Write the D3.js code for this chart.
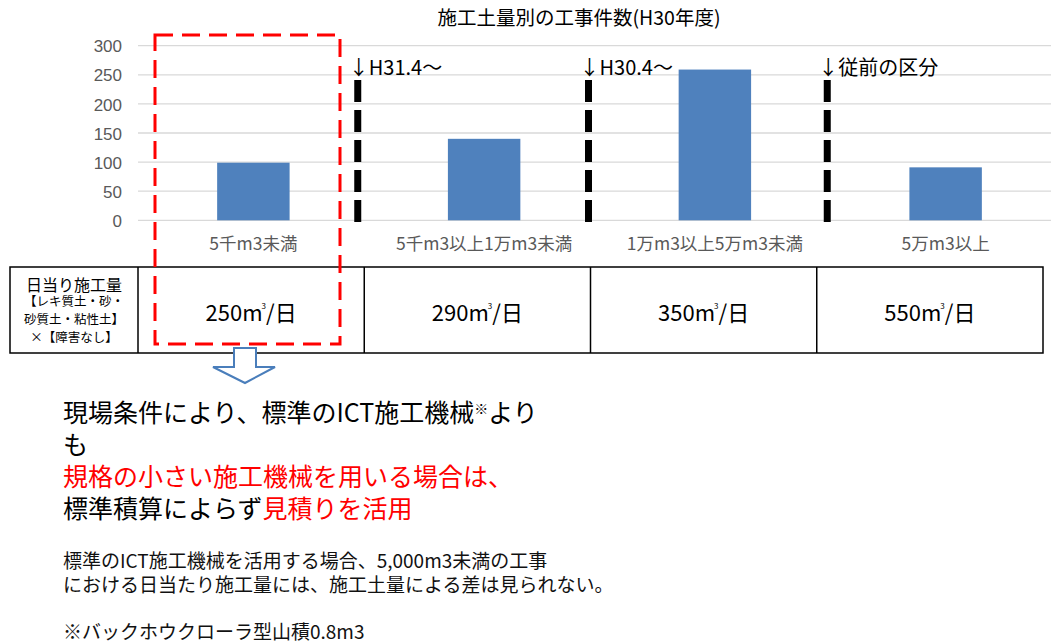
<!DOCTYPE html>
<html>
<head>
<meta charset="utf-8">
<script src="https://cdn.jsdelivr.net/npm/d3@7/dist/d3.min.js"></script>
<style>
  body { margin: 0; background: #fff; }
  svg { display: block; font-family: 'Noto Sans CJK JP', sans-serif; }
  .grid line { stroke: #d9d9d9; stroke-width: 1.3px; }
  .y-axis text { fill: #595959; font-size: 17px; }
  .cat { fill: #595959; font-size: 17.5px; }
</style>
</head>
<body>
<script>
// chart data
const title = '施工土量別の工事件数(H30年度)';
const categories = ['5千m3未満', '5千m3以上1万m3未満', '1万m3以上5万m3未満', '5万m3以上'];
const counts = [99, 140, 259, 91];
const yTicks = [0, 50, 100, 150, 200, 250, 300];
const dividerLabels = ['↓H31.4～', '↓H30.4～', '↓従前の区分'];

// table under the chart
const rowHeader = ['日当り施工量', '【レキ質土・砂・', '砂質土・粘性土】', '×【障害なし】'];
const dailyAmounts = [250, 290, 350, 550];

// text block
const messageLines = [
  [{t: '現場条件により、標準のICT施工機械'}, {t: '※', sup: true}, {t: 'より'}],
  [{t: 'も'}],
  [{t: '規格の小さい施工機械を用いる場合は、', red: true}],
  [{t: '標準積算によらず'}, {t: '見積りを活用', red: true}]
];
const noteLines = [
  '標準のICT施工機械を活用する場合、5,000m3未満の工事',
  'における日当たり施工量には、施工土量による差は見られない。',
  '',
  '※バックホウクローラ型山積0.8m3'
];

const width = 1051, height = 643;
const svg = d3.select('body').append('svg')
  .attr('width', width)
  .attr('height', height);

let x = d3.scaleBand()
  .domain(categories)
  .range([138, 1061])
  .paddingInner(0.686)
  .paddingOuter(0.343);

let y = d3.scaleLinear()
  .domain([0, 300])
  .range([220.3, 45.7]);

// 標題
svg.append('text')
  .attr('x', 579)
  .attr('y', 25)
  .attr('text-anchor', 'middle')
  .attr('font-size', 19.5)
  .attr('fill', '#000')
  .text(title);

// grid
svg.append('g')
  .attr('class', 'grid')
  .selectAll('line')
  .data(yTicks)
  .enter().append('line')
  .attr('x1', 138)
  .attr('x2', width)
  .attr('y1', d => y(d))
  .attr('y2', d => y(d));

let yAxis = d3.axisLeft(y)
  .tickValues(yTicks)
  .tickSize(0)
  .tickPadding(16);

svg.append('g')
  .attr('class', 'y-axis')
  .attr('transform', 'translate(138,0)')
  .call(yAxis)
  .call(g => g.select('.domain').remove())
  .call(g => g.selectAll('text').attr('dy', '0.36em'));

// bars
svg.selectAll('.bar')
  .data(counts)
  .enter().append('rect')
  .attr('class', 'bar')
  .attr('x', (d, i) => x(categories[i]))
  .attr('width', x.bandwidth())
  .attr('y', d => y(d))
  .attr('height', d => y(0) - y(d))
  .attr('fill', '#4f81bd');

svg.selectAll('.cat')
  .data(categories)
  .enter().append('text')
  .attr('class', 'cat')
  .attr('x', d => x(d) + x.bandwidth() / 2)
  .attr('y', 250)
  .attr('text-anchor', 'middle')
  .text(d => d);

// dashed black separators between categories
let step = x.step();
let sepOffsets = [-11, -11, -3];
let sep = svg.selectAll('.sep')
  .data(dividerLabels)
  .enter().append('g')
  .attr('class', 'sep')
  .attr('transform', (d, i) => 'translate(' + (x(categories[i + 1]) - step * 0.343 + sepOffsets[i]) + ',0)');

sep.append('line')
  .attr('y1', 80)
  .attr('y2', 224)
  .attr('stroke', '#000')
  .attr('stroke-width', 7)
  .attr('stroke-dasharray', '22,8');

sep.append('text')
  .attr('x', -9)
  .attr('y', 75)
  .attr('font-size', 20)
  .attr('fill', '#000')
  .text(d => d);

// table
let tableTop = 267, tableBottom = 353;
let col = d3.scaleBand()
  .domain(categories)
  .range([138, 1043]);

let table = svg.append('g').attr('class', 'table');
table.append('rect')
  .attr('x', 10)
  .attr('y', tableTop)
  .attr('width', 1043 - 10)
  .attr('height', tableBottom - tableTop)
  .attr('fill', 'none')
  .attr('stroke', '#000')
  .attr('stroke-width', 1.5);

table.selectAll('.col-line')
  .data(categories)
  .enter().append('line')
  .attr('x1', d => col(d))
  .attr('x2', d => col(d))
  .attr('y1', tableTop)
  .attr('y2', tableBottom)
  .attr('stroke', '#000')
  .attr('stroke-width', 1.5);

table.selectAll('.hdr')
  .data(rowHeader)
  .enter().append('text')
  .attr('x', 74)
  .attr('y', (d, i) => i === 0 ? 291 : 288 + i * 18)
  .attr('text-anchor', 'middle')
  .attr('font-size', (d, i) => i === 0 ? 16 : 12.5)
  .attr('fill', '#000')
  .text(d => d);

let cell = table.selectAll('.val')
  .data(dailyAmounts)
  .enter().append('text')
  .attr('x', (d, i) => col(categories[i]) + col.bandwidth() / 2)
  .attr('y', 321)
  .attr('text-anchor', 'middle')
  .attr('font-size', 22)
  .attr('fill', '#000');
cell.append('tspan').text(d => d + 'm');
cell.append('tspan').attr('font-size', 8).attr('dx', -1).attr('dy', -12).text('3');
cell.append('tspan').attr('dy', 12).text('/日');

// red dashed box round the first column
svg.append('rect')
  .attr('x', 155)
  .attr('y', 35)
  .attr('width', 340 - 155)
  .attr('height', 344 - 35)
  .attr('fill', 'none')
  .attr('stroke', '#ff0000')
  .attr('stroke-width', 3)
  .attr('stroke-dasharray', '18,9');

// hollow down arrow
let arrowPts = [[234, 348], [256, 348], [256, 367], [275, 367], [245, 383], [213, 367], [234, 367]];
svg.append('path')
  .attr('d', d3.line()(arrowPts) + 'Z')
  .attr('fill', '#fff')
  .attr('stroke', '#4a7ebb')
  .attr('stroke-width', 2);

// message text
let msg = svg.selectAll('.msg')
  .data(messageLines)
  .enter().append('text')
  .attr('class', 'msg')
  .attr('x', 63)
  .attr('y', (d, i) => 422 + i * 32)
  .attr('font-size', 25);

msg.selectAll('tspan')
  .data(d => d)
  .enter().append('tspan')
  .attr('fill', d => d.red ? '#ff0000' : '#000')
  .attr('font-size', d => d.sup ? 14 : null)
  .attr('dy', (d, i, nodes) => {
    if (d.sup) return -8;
    if (i > 0 && nodes[i - 1].__data__.sup) return 8;
    return null;
  })
  .text(d => d.t);

svg.selectAll('.note')
  .data(noteLines)
  .enter().append('text')
  .attr('class', 'note')
  .attr('x', 63)
  .attr('y', (d, i) => 568 + i * 23.5)
  .attr('font-size', 19)
  .attr('fill', '#111')
  .text(d => d);
</script>
</body>
</html>
